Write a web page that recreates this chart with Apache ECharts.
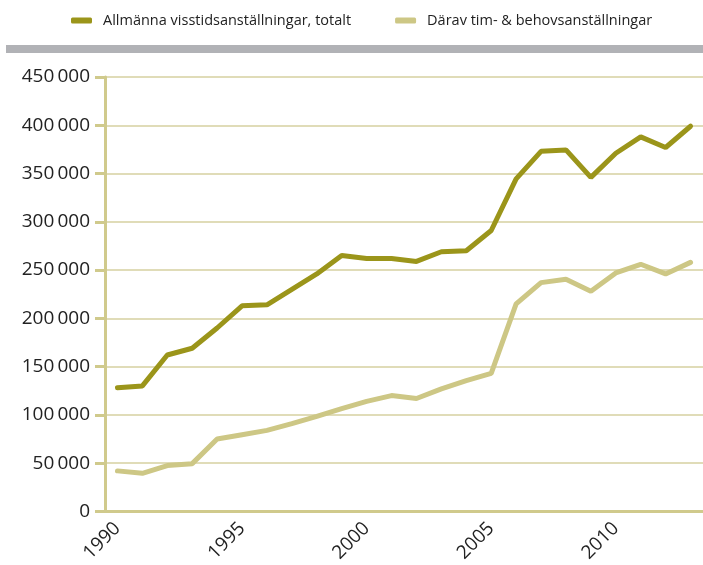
<!DOCTYPE html>
<html>
<head>
<meta charset="utf-8">
<script src="https://cdn.jsdelivr.net/npm/echarts@6/dist/echarts.min.js"></script>
<style>
  html, body { margin: 0; padding: 0; background: #fff; }
  #chart { width: 703px; height: 565px; }
</style>
</head>
<body>
<div id="chart"></div>
<script>
// years on the x axis
const years = []
for (let y = 1990; y <= 2013; y++) years.push(String(y))

// Allmänna visstidsanställningar, totalt
const totalt = [128000, 130000, 162000, 169000, 190000, 213000, 214000, 230000, 246000, 265000,
  262000, 262000, 259000, 269000, 270000, 291000, 344500, 373000, 374500, 346000,
  371000, 388000, 377000, 399000]

// Därav tim- & behovsanställningar
const timBehov = [42000, 39500, 47500, 49500, 75000, 79500, 84000, 91000, 98500, 106500,
  114000, 120000, 117000, 127000, 135500, 143000, 215000, 237000, 240500, 228000,
  247000, 256000, 246000, 258000]

const seriesNames = ['Allmänna visstidsanställningar, totalt', 'Därav tim- & behovsanställningar']
const colors = ['#9b951a', '#cdc785']
const axisColor = '#d0ca8c'

const chart = echarts.init(document.getElementById('chart'))

const option = {
  animation: false,
  color: colors,
  textStyle: { fontFamily: 'Open Sans' },
  legend: {
    top: 8,
    left: 66,
    itemGap: 44,
    itemWidth: 21,
    itemHeight: 6,
    icon: 'roundRect',
    textStyle: { fontSize: 14.5, color: '#222', padding: [0, 0, 0, 6] },
    data: seriesNames
  },
  graphic: [
    {
      type: 'rect',
      shape: { x: 6, y: 45, width: 697, height: 8 },
      style: { fill: '#b1b2b6' }
    }
  ],
  grid: {
    left: 105,
    top: 77,
    bottom: 53,
    width: 603
  },
  xAxis: {
    type: 'category',
    data: years,
    boundaryGap: true,
    axisLine: { lineStyle: { color: axisColor, width: 3 } },
    axisTick: { show: false },
    axisLabel: {
      interval: 4,
      rotate: 45,
      fontSize: 19,
      color: '#222',
      margin: 14
    }
  },
  yAxis: {
    type: 'value',
    min: 0,
    max: 450000,
    interval: 50000,
    axisLine: { show: true, lineStyle: { color: axisColor, width: 3 } },
    axisTick: { show: true, length: 10, lineStyle: { color: axisColor, width: 3 } },
    splitLine: { lineStyle: { color: '#d6d1a0', width: 1.5 } },
    axisLabel: {
      fontSize: 19,
      color: '#222',
      margin: 15,
      formatter: v => String(v).replace(/\B(?=(\d{3})+(?!\d))/g, '\u2009')
    }
  },
  series: [
    {
      name: seriesNames[0],
      type: 'line',
      data: totalt,
      showSymbol: false,
      lineStyle: { width: 5, color: colors[0], cap: 'round' }
    },
    {
      name: seriesNames[1],
      type: 'line',
      data: timBehov,
      showSymbol: false,
      lineStyle: { width: 5, color: colors[1], cap: 'round' }
    }
  ]
}

chart.setOption(option)
</script>
</body>
</html>
